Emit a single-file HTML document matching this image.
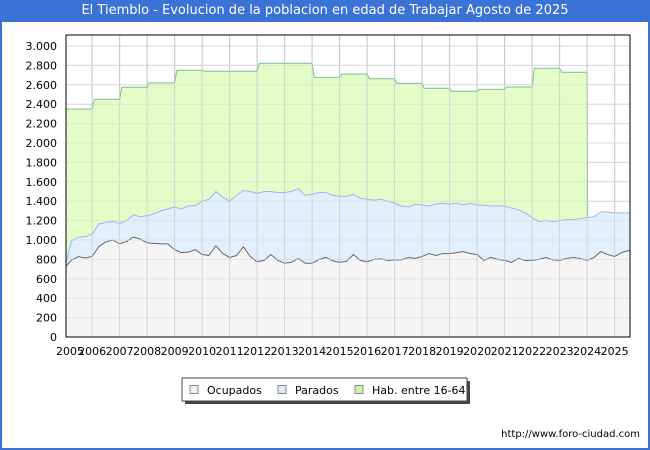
<!DOCTYPE html>
<html><head><meta charset="utf-8"><style>
body{margin:0;width:650px;height:450px;overflow:hidden;background:#fff;font-family:"DejaVu Sans","Liberation Sans",sans-serif}
#frame{position:absolute;left:0;top:0;width:646px;height:448px;border-left:2px solid #3a72d6;border-right:2px solid #3a72d6;border-bottom:2px solid #3a72d6}
#title{position:absolute;left:0;top:0;width:650px;height:22px;background:#3a72d6;color:#fff;font-size:13px;line-height:22px;text-align:center}
svg{position:absolute;left:0;top:0}
</style></head><body>
<div id="frame"></div>
<div id="title">El Tiemblo - Evolucion de la poblacion en edad de Trabajar Agosto de 2025</div>
<svg id="chart" width="650" height="450"></svg>
<script>
const startYear = 2005;
const years = [2005,2006,2007,2008,2009,2010,2011,2012,2013,2014,2015,2016,2017,2018,2019,2020,2021,2022,2023,2024,2025];
const yTicks = [0,200,400,600,800,1000,1200,1400,1600,1800,2000,2200,2400,2600,2800,3000];
const yTickLabels = ["0","200","400","600","800","1.000","1.200","1.400","1.600","1.800","2.000","2.200","2.400","2.600","2.800","3.000"];
const ocupados = [715,794,828,815, 830,935,980,1000, 960,985,1030,1010, 970,965,960,960, 900,870,875,900, 850,840,940,860, 820,840,930,830, 775,790,850,790, 760,770,810,760, 760,800,820,785, 770,780,850,790, 775,800,805,790, 795,795,820,810, 830,860,840,860, 860,870,880,860, 850,790,820,800, 790,770,810,790, 790,800,820,795, 790,810,820,810, 790,820,880,850, 830,870,890];
const parados = [0,196,202,220, 230,230,200,190, 210,215,230,230, 280,305,340,360, 440,450,475,450, 550,580,560,580, 580,620,580,670, 705,710,650,700, 730,730,720,700, 710,690,670,675, 680,670,620,640, 645,610,615,610, 585,555,520,560, 530,490,530,520, 510,510,480,520, 510,570,530,550, 560,560,500,490, 440,390,380,395, 410,400,390,410, 440,420,410,440, 450,410,390];
const habYears = [2005,2006,2007,2008,2009,2010,2011,2012,2013,2014,2015,2016,2017,2018,2019,2020,2021,2022,2023];
const habValues = [2350,2450,2575,2620,2750,2740,2740,2822,2822,2677,2711,2663,2615,2564,2533,2553,2577,2770,2729];

const L=66,R=630,T=35,B=337, X0=2005.05, X1=2025.56;
const xs=v=>L+(v-X0)/(X1-X0)*(R-L);
const ys=v=>B-v/3000*(B-46);
const svg=document.getElementById('chart');
const NS='http://www.w3.org/2000/svg';
function mk(tag,attrs,parent){const e=document.createElementNS(NS,tag);for(const k in attrs)e.setAttribute(k,attrs[k]);(parent||svg).appendChild(e);return e;}

const defs=mk('defs',{});
const cp=mk('clipPath',{id:'plotclip'},defs);
mk('rect',{x:L,y:T,width:R-L,height:B-T},cp);

const grid=mk('g',{});


yTicks.forEach(v=>mk('line',{x1:L,x2:R,y1:ys(v),y2:ys(v),stroke:'#dddddd','stroke-width':1},grid));
years.forEach(y=>{if(y>2005)mk('line',{x1:xs(y),x2:xs(y),y1:T,y2:B,stroke:'#cccccc','stroke-width':1},grid);});

const plot=mk('g',{'clip-path':'url(#plotclip)'});



const times=ocupados.map((_,i)=>startYear+i/4);
const tops=ocupados.map((v,i)=>v+parados[i]);
let hp=[];
habYears.forEach((y,i)=>{hp.push([y+(i?0.08:0),habValues[i]]);hp.push([y+1,habValues[i]]);});
const lastHabEnd=habYears[habYears.length-1]+1;
const topAt=t=>{let i=Math.min(tops.length-1,Math.round((t-startYear)*4));return tops[i];};
let hd='M'+xs(hp[0][0])+','+ys(hp[0][1]);hp.forEach(p=>hd+=' L'+xs(p[0])+','+ys(p[1]));
let hab=mk('path',{d:hd+' L'+xs(lastHabEnd+0.02)+','+ys(topAt(lastHabEnd))+' L'+xs(lastHabEnd+0.02)+','+B+' L'+xs(hp[0][0])+','+B+'Z',fill:'#e4fcc8',stroke:'none'},plot);


let habLine=mk('path',{d:hd+' L'+xs(lastHabEnd+0.02)+','+ys(topAt(lastHabEnd)),fill:'none',stroke:'#78c090','stroke-width':1},plot);



function linePts(arr){let d='';arr.forEach((v,i)=>d+=(i?' L':'M')+xs(times[i])+','+ys(v));d+=' L'+R+','+ys(arr[arr.length-1]);return d;}
const td=linePts(tops);
let pa=mk('path',{d:td+' L'+R+','+B+' L'+xs(times[0])+','+B+'Z',fill:'#e2f0fe',stroke:'none'},plot);


let pl=mk('path',{d:td,fill:'none',stroke:'#98b8f0','stroke-width':1},plot);


const od=linePts(ocupados);
let oa=mk('path',{d:od+' L'+R+','+B+' L'+xs(times[0])+','+B+'Z',fill:'#f5f5f5',stroke:'none'},plot);


let ol=mk('path',{d:od,fill:'none',stroke:'#666666','stroke-width':1},plot);



const grid2=mk('g',{});


yTicks.forEach(v=>mk('line',{x1:L,x2:R,y1:ys(v),y2:ys(v),stroke:'#d8d8d8','stroke-width':1,opacity:0.6},grid2));
years.forEach(y=>{if(y>2005)mk('line',{x1:xs(y),x2:xs(y),y1:T,y2:B,stroke:'#c8c8c8','stroke-width':1,opacity:0.7},grid2);});

let frame=mk('rect',{x:L,y:T,width:R-L,height:B-T,fill:'none',stroke:'#000','stroke-width':1});



yTicks.forEach((v,i)=>{let t=mk('text',{x:L-9,y:ys(v)+4,'text-anchor':'end','font-size':11,fill:'#000'});t.textContent=yTickLabels[i];

});
years.forEach(y=>{let cx=Math.max(xs(y),70);let t=mk('text',{x:cx,y:355,'text-anchor':'middle','font-size':11,fill:'#000'});t.textContent=String(y);

});

const lg=mk('g',{});


mk('rect',{x:185,y:381,width:285,height:23,fill:'#444'},lg);
mk('rect',{x:182,y:378,width:285,height:23,fill:'#fff',stroke:'#444','stroke-width':1},lg);
[['Ocupados','#f0f0f0',190],['Parados','#d8ecfe',278],['Hab. entre 16-64','#cdf7a8',355]].forEach(it=>{
 const g=mk('g',{},lg);
 
 
 mk('rect',{x:it[2],y:385.5,width:8,height:8,fill:it[1],stroke:'#888','stroke-width':1},g);
 const t=mk('text',{x:it[2]+17,y:394,'font-size':11,fill:'#000'},g);t.textContent=it[0];
});
let ft=mk('text',{x:640,y:437,'text-anchor':'end','font-size':10,fill:'#000'});ft.textContent='http://www.foro-ciudad.com';


</script>
</body></html>
